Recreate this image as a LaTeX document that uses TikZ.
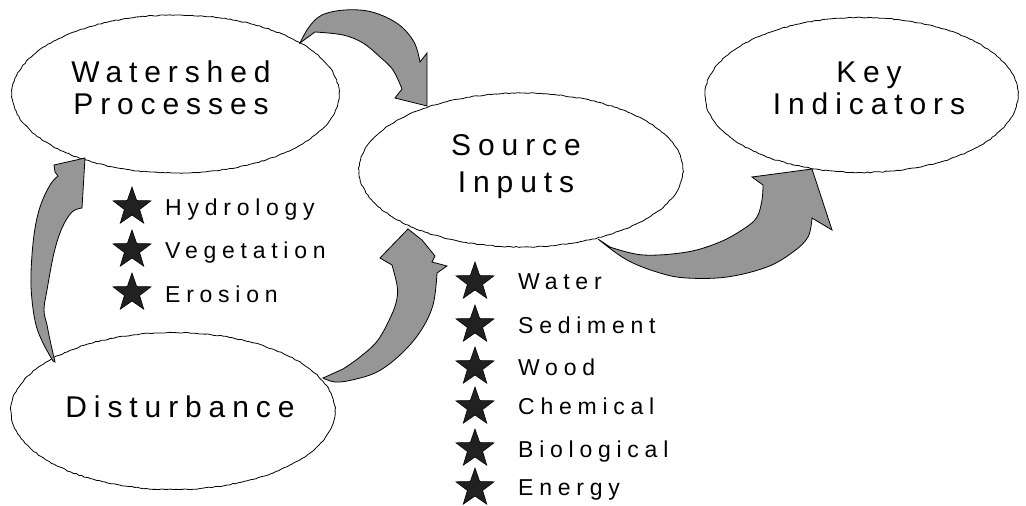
\documentclass[tikz,border=0pt]{standalone}
\usepackage{fontspec}
\setmainfont{Liberation Sans}
\newfontfamily\titlefont[LetterSpace=23]{Liberation Sans}
\newfontfamily\listfont[LetterSpace=25]{Liberation Sans}
\usetikzlibrary{shapes.geometric,decorations.pathmorphing}
\begin{document}
\begin{tikzpicture}[x=1pt,y=-1pt,
  bubble/.style={ellipse, draw, line width=0.8pt, inner sep=0pt, fill=white,
    decorate, decoration={random steps, segment length=3pt, amplitude=0.5pt}},
  ttl/.style={font=\titlefont\fontsize{30}{32}\selectfont, align=center, inner sep=0pt},
  item/.style={font=\listfont\fontsize{23}{24}\selectfont, anchor=base west, inner sep=0pt},
  bullet/.style={star, star points=5, star point ratio=2.5, minimum size=40pt, inner sep=0pt,
    fill=black!87, draw=black, line width=0.6pt},
  bigarrow/.style={fill=black!41, draw=black, line width=0.8pt, line join=miter}]
\useasboundingbox[fill=white] (0,0) rectangle (1026,506);

% bubbles
\node[bubble, minimum width=327pt, minimum height=158pt] (ws) at (175.5,94) {};
\node[bubble, minimum width=324pt, minimum height=154pt] (si) at (521,170) {};
\node[bubble, minimum width=313pt, minimum height=155pt] (ki) at (861.5,95) {};
\node[bubble, minimum width=324pt, minimum height=157pt] (di) at (173,411) {};

% titles
\node[ttl] (wst) at (171,88) {Watershed\\Processes};
\node[ttl] (sit) at (516,167) {Source\\[5pt]Inputs};
\node[ttl] (kit) at (869,88) {Key\\Indicators};
\node[ttl] (dit) at (180,407) {Disturbance};

% block arrows
% Watershed -> Source
\filldraw[bigarrow] plot[smooth, tension=0.6] coordinates {(300,43) (309,27) (322,15) (345,10) (372,12) (398,24) (414,42) (420,62)}
  -- (427,53) -- (427,106) -- (395,98) -- (402,89)
  -- plot[smooth, tension=0.6] coordinates {(402,89) (393,70) (380,57) (363,43) (343,35) (315,32)} -- cycle;
% Source -> Key
\filldraw[bigarrow] plot[smooth, tension=0.6] coordinates {(598,239) (627,260) (660,273) (687,278) (727,277) (767,267) (793,252) (808,237) (812,218)}
  -- (832,230) -- (812,169) -- (752,177) -- (763,185)
  -- plot[smooth, tension=0.6] coordinates {(763,185) (762,200) (757,217) (745,228) (720,242) (687,252) (643,255) (610,247)} -- cycle;
% Disturbance -> Source
\filldraw[bigarrow] plot[smooth, tension=0.6] coordinates {(323,378) (335,382) (352,380) (377,372) (400,355) (420,332) (433,305) (437,273)}
  -- (447,266) -- (432,262) -- (435,256) -- (422,240) -- (408,229) -- (380,258) -- (392,265)
  -- plot[smooth, tension=0.6] coordinates {(392,265) (397,285) (397,298) (392,314) (378,340) (360,357) (343,369)} -- cycle;
% Disturbance -> Watershed
\filldraw[bigarrow] plot[smooth, tension=0.6] coordinates {(53,361) (43,343) (36,325) (32,300) (31,273) (34,235) (40,207) (50,185) (58,176)}
  -- (55,172) -- (54,165) -- (85,158) -- (82,208)
  -- plot[smooth, tension=0.6] coordinates {(82,208) (72,212) (62,228) (54,253) (47,290) (44,310) (47,325) (50,340) (55,362)} -- cycle;

% watershed process list
\node[bullet] (s1) at (132,207) {};
\node[item] (t1) at (165,215) {Hydrology};
\node[bullet] (s2) at (132,250) {};
\node[item] (t2) at (165,258) {Vegetation};
\node[bullet] (s3) at (132,293) {};
\node[item] (t3) at (165,302) {Erosion};

% source input list
\node[bullet] (u1) at (475,282) {};
\node[item] (v1) at (518,289) {Water};
\node[bullet] (u2) at (475,325) {};
\node[item] (v2) at (518,333) {Sediment};
\node[bullet] (u3) at (475,367) {};
\node[item] (v3) at (518,375) {Wood};
\node[bullet] (u4) at (475,407) {};
\node[item] (v4) at (518,414) {Chemical};
\node[bullet] (u5) at (475,449) {};
\node[item] (v5) at (518,457) {Biological};
\node[bullet] (u6) at (475,488) {};
\node[item] (v6) at (518,495) {Energy};
\end{tikzpicture}
\end{document}
